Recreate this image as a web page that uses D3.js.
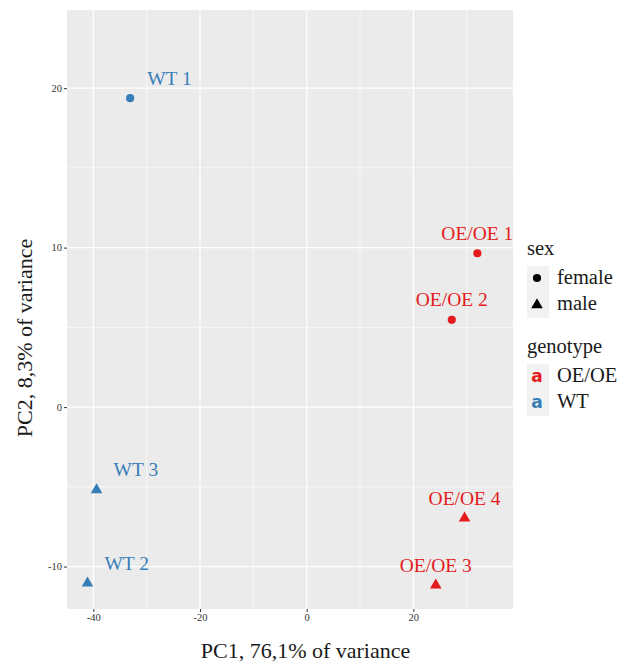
<!DOCTYPE html>
<html>
<head>
<meta charset="utf-8">
<script src="https://cdn.jsdelivr.net/npm/d3@7"></script>
<style>
  body { margin: 0; background: #fff; }
</style>
</head>
<body>
<div id="chart"></div>
<script>
/* PCA scatter, sex x genotype */

// data
const samples  = ["WT 1", "WT 2", "WT 3", "OE/OE 1", "OE/OE 2", "OE/OE 3", "OE/OE 4"];
const pc1      = [-33.1, -41.1, -39.4, 32.0, 27.2, 24.2, 29.6];
const pc2      = [19.37, -11.04, -5.19, 9.65, 5.47, -11.17, -6.97];
const sex      = ["female", "male", "male", "female", "female", "male", "male"];
const genotype = ["WT", "WT", "WT", "OE/OE", "OE/OE", "OE/OE", "OE/OE"];
const sexLevels = ["female", "male"];
const genoLevels = ["OE/OE", "WT"];
const xTicks = [-40, -20, 0, 20];
const yTicks = [-10, 0, 10, 20];
const xMinor = [-30, -10, 10, 30];
const yMinor = [-5, 5, 15];

const data = samples.map((s, i) => ({name: s, x: pc1[i], y: pc2[i], sex: sex[i], geno: genotype[i]}));

const SERIF = "'Liberation Serif', 'DejaVu Serif', serif";

// dimensions of the panel
const W = 632, H = 669;
const margin = {top: 10, right: 119, bottom: 60, left: 67},
width = W - margin.left - margin.right,
height = H - margin.top - margin.bottom;

const svg = d3.select("#chart")
.append("svg")
.attr("width", W)
.attr("height", H)
.attr("font-family", SERIF);
const g = svg.append("g")
.attr("transform", "translate(" + margin.left + "," + margin.top + ")");

const x = d3.scaleLinear().domain([-44.94, 38.68]).range([0, width]);
const y = d3.scaleLinear().domain([-12.66, 24.9]).range([height, 0]);

const colour = d3.scaleOrdinal().domain(genoLevels).range(["#E41A1C", "#377EB8"]);
const shape = d3.scaleOrdinal().domain(sexLevels).range([d3.symbolCircle, d3.symbolTriangle]);
const shapeSize = d3.scaleOrdinal().domain(sexLevels).range([52, 58]);

// panel background
g.append("rect")
.attr("width", width)
.attr("height", height)
.attr("fill", "#ebebeb");

// minor grid
g.selectAll(".xminor").data(xMinor).join("line")
.attr("x1", d => x(d)).attr("x2", d => x(d))
.attr("y1", 0).attr("y2", height)
.attr("stroke", "#fff").attr("stroke-width", 0.6);
g.selectAll(".yminor").data(yMinor).join("line")
.attr("x1", 0).attr("x2", width)
.attr("y1", d => y(d)).attr("y2", d => y(d))
.attr("stroke", "#fff").attr("stroke-width", 0.6);

// major grid
g.selectAll(".xmajor").data(xTicks).join("line")
.attr("x1", d => x(d)).attr("x2", d => x(d))
.attr("y1", 0).attr("y2", height)
.attr("stroke", "#fff").attr("stroke-width", 1.2);
g.selectAll(".ymajor").data(yTicks).join("line")
.attr("x1", 0).attr("x2", width)
.attr("y1", d => y(d)).attr("y2", d => y(d))
.attr("stroke", "#fff").attr("stroke-width", 1.2);

// axes
const xAxis = g.append("g")
.attr("transform", "translate(0," + height + ")")
.call(d3.axisBottom(x).tickValues(xTicks).tickSize(3).tickPadding(2).tickFormat(d => d));
const yAxis = g.append("g")
.call(d3.axisLeft(y).tickValues(yTicks).tickSize(3).tickPadding(2).tickFormat(d => d));
[xAxis, yAxis].forEach(a => {
  a.attr("font-family", SERIF);
  a.select(".domain").remove();
  a.selectAll("line").attr("stroke", "#333");
  a.selectAll("text")
   .attr("fill", "#333")
   .attr("font-family", SERIF)
   .attr("font-size", "10.5px");
});

// points
g.selectAll(".pt").data(data).join("path")
.attr("transform", d => "translate(" + x(d.x) + "," + y(d.y) + ")")
.attr("d", d => d3.symbol(shape(d.sex), shapeSize(d.sex))())
.attr("fill", d => colour(d.geno));

// labels: WT to the upper right, OE/OE centred above
g.selectAll(".lab").data(data).join("text")
.attr("x", d => x(d.x) + (d.geno === "WT" ? 17 : 0))
.attr("y", d => y(d.y) - 13.5)
.attr("text-anchor", d => d.geno === "WT" ? "start" : "middle")
.attr("fill", d => colour(d.geno))
.attr("font-family", SERIF)
.attr("font-size", "19.5px")
.text(d => d.name);

// axis titles
svg.append("text")
.attr("x", 305.5)
.attr("y", 658)
.attr("text-anchor", "middle")
.attr("fill", "#1a1a1a")
.attr("font-family", SERIF)
.attr("font-size", "22px")
.text("PC1, 76,1% of variance");

svg.append("text")
.attr("transform", "translate(32,338) rotate(-90)")
.attr("text-anchor", "middle")
.attr("fill", "#1a1a1a")
.attr("font-family", SERIF)
.attr("font-size", "22px")
.text("PC2, 8,3% of variance");

// legends
const lx = 527, keyW = 22, keyH = 26;

function legend(title, levels, top, drawKey) {
  const lg = svg.append("g").attr("transform", "translate(" + lx + "," + top + ")");
  lg.append("text").attr("x", 0).attr("y", 0)
    .attr("fill", "#1a1a1a")
    .attr("font-family", SERIF)
    .attr("font-size", "20.5px").text(title);
  const rows = lg.selectAll(".row").data(levels).join("g")
    .attr("transform", (d, i) => "translate(0," + (11 + i * keyH) + ")");
  rows.append("rect").attr("width", keyW).attr("height", keyH).attr("fill", "#f2f2f2");
  rows.each(function(d) { drawKey(d3.select(this), d); });
  rows.append("text").attr("x", 30).attr("y", 18)
    .attr("fill", "#1a1a1a")
    .attr("font-family", SERIF)
    .attr("font-size", "20.5px").text(d => d);
}

legend("sex", sexLevels, 255, (sel, d) => {
  sel.append("path")
    .attr("transform", "translate(10," + (d === "female" ? 12 : 13) + ")")
    .attr("d", d3.symbol(shape(d), shapeSize(d))())
    .attr("fill", "#000");
});

legend("genotype", genoLevels, 353, (sel, d) => {
  sel.append("text")
    .attr("x", 10).attr("y", 18)
    .attr("text-anchor", "middle")
    .attr("fill", colour(d))
    .attr("font-family", "'DejaVu Sans', sans-serif")
    .attr("font-weight", "bold")
    .attr("font-size", "17px")
    .text("a");
});
</script>
</body>
</html>
